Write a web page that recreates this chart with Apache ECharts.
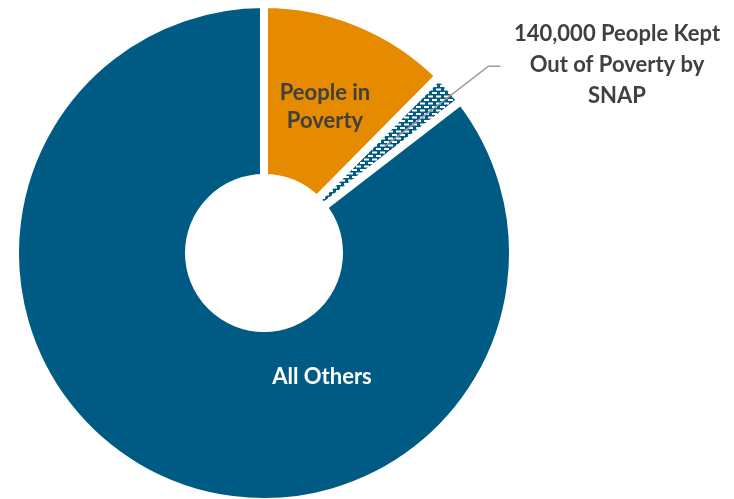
<!DOCTYPE html>
<html>
<head>
<meta charset="utf-8">
<script src="https://cdn.jsdelivr.net/npm/echarts@6/dist/echarts.min.js"></script>
<style>
  html, body { margin: 0; padding: 0; background: #ffffff; }
  #chart { width: 734px; height: 499px; }
</style>
</head>
<body>
<div id="chart"></div>
<script>
// Population split: people in poverty, people lifted out by SNAP, everyone else
const categories = ['People in\nPoverty', '140,000 People Kept\nOut of Poverty by\nSNAP', 'All Others'];
const people = [824000, 140000, 5671000];

const BLUE = '#005B84';
const ORANGE = '#E68A00';
const TEXT = '#404040';
const FONT = 'Lato, "Open Sans", sans-serif';

// Brick-style dash fill for the SNAP slice
function dashPattern() {
  const c = document.createElement('canvas');
  c.width = 8; c.height = 7;
  const g = c.getContext('2d');
  g.fillStyle = BLUE;
  g.fillRect(0, 0, 8, 7);
  g.fillStyle = '#ffffff';
  g.fillRect(0, 1, 5, 2);
  g.fillRect(4, 4.5, 5, 2);
  g.fillRect(-4, 4.5, 5, 2);
  return c;
}

const CX = 264, CY = 253;
const total = people.reduce((a, b) => a + b, 0);
function midAngle(i) {
  let before = 0;
  for (let k = 0; k < i; k++) before += people[k];
  return (before + people[i] / 2) / total * 2 * Math.PI;
}
function polar(a, r) {
  return [CX + r * Math.sin(a), CY - r * Math.cos(a)];
}

// Leader from the middle of the SNAP slice out to its callout text
const snapMid = midAngle(1);
const lead0 = polar(snapMid, 161);
const lead1 = polar(snapMid + 0.03, 292);
const lead2 = [lead1[0] + 12, lead1[1]];

const fills = [ORANGE, { image: dashPattern(), repeat: 'repeat' }, BLUE];
const labelStyles = [
  { show: true, position: 'inside', color: TEXT, fontSize: 22, lineHeight: 28 },
  { show: true, position: 'outside', color: TEXT, fontSize: 22, lineHeight: 31, align: 'center' },
  { show: true, position: 'inside', color: '#ffffff', fontSize: 22 }
];

const chart = echarts.init(document.getElementById('chart'), null, { renderer: 'canvas' });
chart.setOption({
  backgroundColor: '#ffffff',
  animation: false,
  graphic: {
    elements: [{
      type: 'polyline',
      zlevel: 1,
      z: 100,
      silent: true,
      shape: { points: [lead0, lead1, lead2] },
      style: { stroke: '#9C9C9C', lineWidth: 1.6, fill: null }
    }]
  },
  series: [{
    type: 'pie',
    center: [CX, CY],
    radius: [75, 249],
    startAngle: 90,
    clockwise: true,
    avoidLabelOverlap: false,
    silent: true,
    itemStyle: { borderColor: '#ffffff', borderWidth: 8 },
    label: { fontFamily: FONT, fontWeight: 'bold' },
    labelLine: { show: false },
    data: categories.map((name, i) => ({
      name: name,
      value: people[i],
      itemStyle: { color: fills[i] },
      label: Object.assign({ formatter: '{b}', fontFamily: FONT, fontWeight: 'bold' }, labelStyles[i]),
      labelLine: { show: false }
    })),
    labelLayout: function (params) {
      if (params.dataIndex === 0) {
        return { x: 325, y: 107, align: 'center', verticalAlign: 'middle' };
      }
      if (params.dataIndex === 1) {
        return { x: 617, y: 65, align: 'center', verticalAlign: 'middle' };
      }
      if (params.dataIndex === 2) {
        return { x: 322, y: 377, align: 'center', verticalAlign: 'middle' };
      }
    }
  }]
});
</script>
</body>
</html>
